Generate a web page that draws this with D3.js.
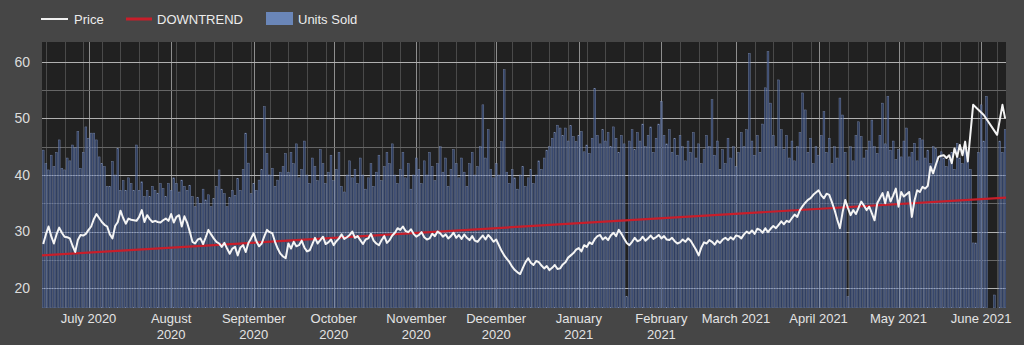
<!DOCTYPE html>
<html>
<head>
<meta charset="utf-8">
<script src="https://cdn.jsdelivr.net/npm/d3@7"></script>
<style>
  html, body { margin: 0; padding: 0; background: #464646; }
  svg { display: block; }
  text { font-family: "Liberation Sans", Arial, sans-serif; }
</style>
</head>
<body>
<svg id="chart" width="1024" height="345"></svg>
<script>
// First day of the daily series (UTC)
const startDate = Date.UTC(2020, 5, 14);

// Daily closing price (null = no quote that day)
const price = [
  27.8,29.5,30.9,29.2,27.9,29.5,30.7,29.8,29.1,29.0,28.8,27.5,26.4,28.5,29.4,29.3,29.6,30.3,30.9,32.2,
  33.1,32.4,31.7,31.2,30.9,29.5,28.8,31.0,31.7,33.7,32.4,31.4,32.3,32.1,32.0,31.9,32.6,33.8,31.7,32.9,
  32.2,31.7,31.9,31.7,31.6,32.0,32.3,31.9,33.1,31.6,32.6,32.9,30.9,32.7,31.6,30.0,28.2,27.9,28.6,28.8,
  27.8,29.0,30.3,29.5,28.8,28.2,27.9,27.3,28.0,27.0,26.1,27.0,27.3,25.8,27.2,27.6,26.4,28.0,28.8,29.7,
  28.3,27.4,27.9,29.2,30.3,29.9,29.7,28.2,27.0,26.1,25.6,25.3,27.9,27.0,28.2,27.4,27.6,28.4,27.2,26.5,
  26.7,27.8,28.9,27.9,28.5,29.1,27.8,28.1,28.6,27.6,28.3,28.8,29.5,28.7,29.0,29.4,30.0,28.9,29.2,28.5,
  27.8,28.6,28.8,29.6,28.4,27.9,27.6,28.5,29.2,28.0,28.5,29.3,29.8,30.6,30.3,30.9,30.1,29.9,30.4,29.6,
  29.1,29.4,29.9,29.0,28.6,28.8,29.6,29.2,30.0,29.7,29.1,29.5,28.8,29.2,29.8,28.9,29.4,28.7,29.5,28.9,
  28.5,29.2,28.4,28.2,28.8,29.3,28.6,29.4,28.9,28.2,28.6,27.6,26.6,25.8,25.2,24.6,23.8,23.2,22.8,22.5,
  23.6,24.6,25.3,24.5,24.1,24.8,24.6,24.0,23.5,23.9,23.2,23.6,24.1,23.4,23.5,24.2,24.6,25.4,25.8,26.2,
  26.8,27.1,26.5,27.6,27.3,28.1,27.8,28.7,29.2,29.4,28.6,29.0,28.5,29.3,29.8,29.2,30.3,29.6,28.8,28.0,
  27.6,28.2,28.9,28.3,28.5,29.1,28.4,28.8,29.3,28.7,29.0,29.4,28.8,29.2,28.6,28.5,28.9,28.3,27.9,28.1,
  28.6,28.2,28.8,28.4,27.6,26.8,25.8,27.2,28.1,27.9,28.5,28.2,27.7,28.4,28.0,28.6,28.9,28.5,29.0,28.6,
  29.3,29.2,28.8,29.5,30.0,29.7,30.2,29.6,30.5,30.3,29.8,30.6,29.9,30.5,31.0,30.6,31.2,31.8,31.3,31.9,
  31.7,32.4,33.0,32.6,33.8,34.5,35.1,35.6,35.9,36.5,36.9,37.3,36.4,35.9,36.7,36.5,35.2,33.8,32.1,30.6,
  33.4,35.6,34.2,32.9,33.8,33.1,34.2,35.3,34.6,33.8,34.4,33.2,32.0,35.0,35.9,36.8,35.0,37.0,35.3,36.4,
  37.6,34.4,37.0,36.2,36.6,37.0,32.6,35.5,37.3,37.0,37.9,37.6,38.1,41.5,40.3,41.8,43.2,43.4,43.5,43.0,
  43.5,42.1,44.7,43.2,45.3,43.5,45.9,42.4,null,52.4,null,null,null,50.6,null,null,null,null,47.1,null,
  52.4,50.0
];

// Daily units sold (null = no sales recorded)
const unitsSold = [
  44.4,42.0,40.9,43.5,41.5,44.0,46.2,41.2,40.9,43.0,42.5,45.3,44.8,47.7,41.2,44.0,48.5,46.5,47.4,47.4,
  46.2,43.2,42.0,41.5,38.0,38.0,42.4,40.0,44.7,37.3,39.0,37.3,39.5,38.5,37.3,45.3,37.3,38.8,36.2,37.3,
  36.2,38.0,37.3,36.8,38.5,37.6,36.2,38.5,37.3,39.5,38.5,37.0,39.1,38.0,37.3,38.2,36.2,34.4,36.0,35.0,
  37.5,35.6,36.5,34.4,35.8,38.0,40.9,37.5,36.7,34.4,36.0,37.3,36.4,39.4,37.3,41.0,47.4,42.1,36.7,38.5,
  37.3,39.1,41.0,52.1,43.8,40.0,41.2,38.0,39.1,40.5,41.5,43.8,40.5,44.0,42.0,45.5,39.5,41.0,46.0,40.0,
  38.5,43.0,41.5,39.0,44.5,42.0,38.5,40.5,43.5,39.0,41.0,44.0,38.0,37.0,40.0,42.5,39.5,41.0,38.5,43.0,
  40.0,37.5,39.5,42.0,38.0,40.5,43.5,39.0,41.5,44.0,42.0,45.5,40.0,38.5,41.0,44.0,39.5,42.0,37.5,40.0,
  43.0,41.0,38.5,42.5,40.0,44.0,41.5,39.0,42.0,45.0,40.5,43.0,38.0,41.0,44.5,42.0,39.5,43.0,40.5,38.0,
  42.0,44.0,40.0,41.5,45.0,52.4,43.0,48.0,41.0,39.5,42.0,40.0,45.9,58.6,40.5,38.5,41.0,39.5,37.5,40.0,
  41.5,38.0,39.5,41.0,38.5,40.0,42.5,41.0,43.0,44.4,45.0,46.5,47.5,48.8,48.3,47.0,48.3,46.0,48.7,46.8,
  45.9,47.0,47.7,44.1,45.3,43.8,46.5,55.3,47.0,45.5,48.0,46.0,47.5,45.0,48.5,46.5,44.0,47.0,45.5,18.5,
  46.0,48.0,44.5,47.5,46.0,49.0,45.0,47.0,48.5,44.0,46.5,49.0,53.0,47.0,45.5,48.0,44.0,46.5,43.5,47.0,
  45.0,42.5,46.0,44.0,47.5,43.0,45.5,42.0,44.5,47.0,45.0,53.3,43.5,46.0,41.0,44.5,42.0,46.5,43.0,45.0,
  41.5,44.0,47.5,45.0,48.0,61.5,46.0,43.5,47.0,44.0,49.0,55.4,61.8,52.7,47.0,45.0,56.8,48.0,44.5,47.0,
  43.0,46.0,42.5,45.0,47.5,54.5,51.5,44.0,46.5,42.0,45.0,43.5,47.0,51.2,44.0,46.5,42.0,45.0,43.0,53.6,
  50.6,44.0,18.5,45.0,42.5,47.0,49.4,46.8,43.0,44.4,46.0,49.7,45.0,43.8,47.0,52.7,45.5,53.9,44.4,46.0,
  42.7,44.5,43.2,46.0,48.3,43.2,44.0,45.6,42.5,46.5,46.2,43.0,44.4,42.0,45.0,44.7,42.5,44.1,43.0,41.5,
  42.7,44.0,41.0,45.6,43.0,42.0,45.0,43.8,41.0,28.0,28.0,44.0,52.4,46.0,53.9,null,null,18.8,null,46.0,
  44.0,48.0
];

// Straight trend line: value at the first and last day
const trendDates = [Date.UTC(2020, 5, 13, 13), Date.UTC(2021, 5, 10, 8)];
const trendValues = [25.8, 36.0];

// Axis ticks
const yTicks = [20, 30, 40, 50, 60];
const yGrid = [20, 25, 30, 35, 40, 45, 50, 55, 60];
const monthTickDates = [
  Date.UTC(2020, 6, 1), Date.UTC(2020, 7, 1), Date.UTC(2020, 8, 1), Date.UTC(2020, 9, 1),
  Date.UTC(2020, 10, 1), Date.UTC(2020, 11, 1), Date.UTC(2021, 0, 1), Date.UTC(2021, 1, 1),
  Date.UTC(2021, 2, 1), Date.UTC(2021, 3, 1), Date.UTC(2021, 4, 1), Date.UTC(2021, 5, 1)
];
const monthTickLabels = [
  "July 2020", "August\n2020", "September\n2020", "October\n2020", "November\n2020",
  "December\n2020", "January\n2021", "February\n2021", "March 2021", "April 2021",
  "May 2021", "June 2021"
];

const days = price.map((_, i) => d3.utcDay.offset(new Date(startDate), i));

const svg = d3.select("#chart");
const W = 1024, H = 345;
const plot = { left: 42, right: 1006, top: 42, bottom: 308 };

const x = d3.scaleUtc()
  .domain([new Date(trendDates[0]), new Date(trendDates[1])])
  .range([plot.left, plot.right]);
const y = d3.scaleLinear().domain([16.5, 63.5]).range([plot.bottom, plot.top]);

svg.append("rect").attr("width", W).attr("height", H).attr("fill", "#464646");

const clip = svg.append("defs").append("clipPath").attr("id", "plotclip");
clip.append("rect")
  .attr("x", plot.left).attr("y", plot.top)
  .attr("width", plot.right - plot.left).attr("height", plot.bottom - plot.top);

const g = svg.append("g").attr("clip-path", "url(#plotclip)");

g.append("rect")
  .attr("x", plot.left).attr("y", plot.top)
  .attr("width", plot.right - plot.left).attr("height", plot.bottom - plot.top)
  .attr("fill", "#212121");

// Weekly grid
const weeks = d3.utcMonday.range(x.domain()[0], x.domain()[1]);
g.append("g").selectAll("line").data(weeks).join("line")
  .attr("x1", d => Math.round(x(d)) + 0.5).attr("x2", d => Math.round(x(d)) + 0.5)
  .attr("y1", plot.top).attr("y2", plot.bottom)
  .attr("stroke", "#4a4a4a").attr("stroke-width", 1);

// Month grid
g.append("g").selectAll("line").data(monthTickDates).join("line")
  .attr("x1", d => Math.round(x(new Date(d))) + 0.5).attr("x2", d => Math.round(x(new Date(d))) + 0.5)
  .attr("y1", plot.top).attr("y2", plot.bottom)
  .attr("stroke", "#8e8e8e").attr("stroke-width", 1);

// Horizontal grid
g.append("g").selectAll("line").data(yGrid).join("line")
  .attr("x1", plot.left).attr("x2", plot.right)
  .attr("y1", d => Math.round(y(d)) + 0.5).attr("y2", d => Math.round(y(d)) + 0.5)
  .attr("stroke", d => d % 10 === 0 ? "#b0b0b0" : "#666666").attr("stroke-width", 1);

// Units sold bars
const dayW = x(new Date(startDate + 86400000)) - x(new Date(startDate));
const barData = unitsSold.map((v, i) => ({ date: days[i], v })).filter(d => d.v != null);
g.append("g").selectAll("rect").data(barData).join("rect")
  .attr("x", d => x(d.date) - dayW / 2 + 0.4)
  .attr("width", dayW - 0.8)
  .attr("y", d => y(d.v))
  .attr("height", d => plot.bottom - y(d.v))
  .attr("fill", "rgba(58,84,142,0.6)")
  .attr("stroke", "rgba(150,166,206,0.7)")
  .attr("stroke-width", 0.45);

// Trend line
g.append("line")
  .attr("x1", x(new Date(trendDates[0]))).attr("y1", y(trendValues[0]))
  .attr("x2", x(new Date(trendDates[1]))).attr("y2", y(trendValues[1]))
  .attr("stroke", "#c81e2a").attr("stroke-width", 2.2);

// Price line
const pricePts = price.map((v, i) => ({ date: days[i], v })).filter(d => d.v != null);
g.append("path")
  .datum(pricePts)
  .attr("fill", "none")
  .attr("stroke", "#f4f4f4")
  .attr("stroke-width", 2)
  .attr("stroke-linejoin", "round")
  .attr("d", d3.line().x(d => x(d.date)).y(d => y(d.v)));

// Y axis labels
svg.append("g").selectAll("text").data(yTicks).join("text")
  .attr("x", 30).attr("y", d => y(d))
  .attr("dy", "0.35em")
  .attr("text-anchor", "end")
  .attr("font-size", 14)
  .attr("fill", "#dcdcdc")
  .text(d => d);

// X axis labels
const xl = svg.append("g").selectAll("text").data(monthTickDates).join("text")
  .attr("text-anchor", "middle")
  .attr("font-size", 13)
  .attr("fill", "#e4e4e4")
  .attr("x", d => x(new Date(d)))
  .attr("y", 323);
xl.each(function (d, i) {
  const lines = monthTickLabels[i].split("\n");
  d3.select(this).selectAll("tspan").data(lines).join("tspan")
    .attr("x", x(new Date(d)))
    .attr("dy", (l, j) => j === 0 ? 0 : 16)
    .text(l => l);
});

// Legend
const lg = svg.append("g");
lg.append("line").attr("x1", 41).attr("x2", 68).attr("y1", 19).attr("y2", 19)
  .attr("stroke", "#f0f0f0").attr("stroke-width", 2);
lg.append("text").attr("x", 74).attr("y", 24).attr("font-size", 13).attr("fill", "#ececec").text("Price");
lg.append("line").attr("x1", 126).attr("x2", 152).attr("y1", 19).attr("y2", 19)
  .attr("stroke", "#c81e2a").attr("stroke-width", 3);
lg.append("text").attr("x", 157).attr("y", 24).attr("font-size", 13).attr("fill", "#ececec").text("DOWNTREND");
lg.append("rect").attr("x", 266).attr("y", 12).attr("width", 27).attr("height", 13)
  .attr("fill", "#6a86b8");
lg.append("text").attr("x", 298).attr("y", 24).attr("font-size", 13).attr("fill", "#ececec").text("Units Sold");
</script>
</body>
</html>
